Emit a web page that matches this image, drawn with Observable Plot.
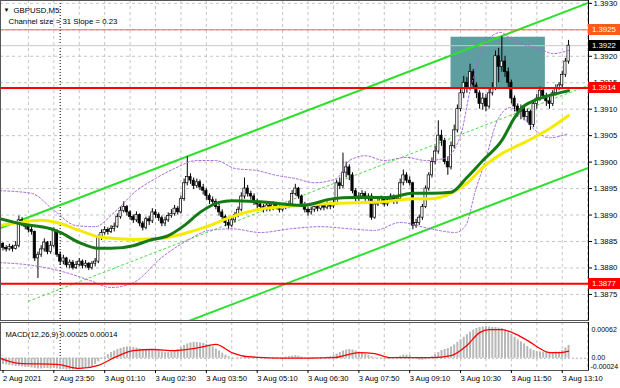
<!DOCTYPE html>
<html><head><meta charset="utf-8">
<script src="https://cdn.jsdelivr.net/npm/d3@7"></script>
<script src="https://cdn.jsdelivr.net/npm/@observablehq/plot@0.6"></script>
<style>
body{margin:0;background:#fff;}
#wrap{position:relative;width:620px;height:388px;overflow:hidden;font-family:"Liberation Sans",Arial,sans-serif;background:#fff;}
#wrap svg{position:absolute;left:0;}
.tag{position:absolute;left:588px;width:32px;height:11px;line-height:11px;font-size:7.8px;color:#fff;padding-left:4px;box-sizing:border-box;}
</style></head><body><div id="wrap"></div>
<script>
// ---------- data ----------
const timeTickBars = [0,16,32,48,64,80,96,112,128,144,160,176];
const timeLabels = ["2 Aug 2021","2 Aug 23:50","3 Aug 01:10","3 Aug 02:30","3 Aug 03:50","3 Aug 05:10","3 Aug 06:30","3 Aug 07:50","3 Aug 09:10","3 Aug 10:30","3 Aug 11:50","3 Aug 13:10"];
const gridBars = [8,16,24,32,40,48,56,64,72,80,88,96,104,112,120,128,136,144,152,160,168,176,184];
const separatorBar = [18];
const priceTicks = [1.3875,1.3880,1.3885,1.3890,1.3895,1.3900,1.3905,1.3910,1.3915,1.3920,1.3925,1.3930];

const firstOpen = 1.38845;
const close = [
1.38838,1.38835,1.38840,1.38836,1.38842,1.38890,1.38884,1.38878,1.38872,1.38868,
1.38818,1.38825,1.38835,1.38848,1.38830,1.38842,1.38870,1.38825,1.38812,1.38818,
1.38805,1.38810,1.38800,1.38806,1.38812,1.38804,1.38808,1.38800,1.38808,1.38812,
1.38858,1.38866,1.38872,1.38868,1.38874,1.38878,1.38896,1.38908,1.38915,1.38905,
1.38896,1.38890,1.38900,1.38884,1.38876,1.38892,1.38888,1.38905,1.38900,1.38894,
1.38884,1.38890,1.38898,1.38902,1.38912,1.38905,1.38930,1.38960,1.38972,1.38965,
1.38955,1.38962,1.38952,1.38946,1.38936,1.38928,1.38925,1.38915,1.38905,1.38896,
1.38885,1.38880,1.38890,1.38900,1.38910,1.38935,1.38950,1.38940,1.38935,1.38925,
1.38920,1.38915,1.38910,1.38918,1.38912,1.38920,1.38915,1.38910,1.38918,1.38915,
1.38920,1.38940,1.38950,1.38935,1.38920,1.38910,1.38905,1.38910,1.38915,1.38912,
1.38918,1.38914,1.38920,1.38916,1.38922,1.38960,1.38955,1.38980,1.38990,1.38975,
1.38945,1.38930,1.38935,1.38940,1.38930,1.38935,1.38895,1.38920,1.38925,1.38930,
1.38920,1.38928,1.38935,1.38925,1.38930,1.38960,1.38975,1.38965,1.38960,1.38880,
1.38885,1.38895,1.38915,1.38950,1.38975,1.39000,1.39020,1.39050,1.39040,1.39000,
1.38990,1.39030,1.39060,1.39100,1.39130,1.39150,1.39140,1.39170,1.39145,1.39130,
1.39110,1.39120,1.39105,1.39130,1.39140,1.39200,1.39180,1.39190,1.39170,1.39150,
1.39120,1.39105,1.39095,1.39100,1.39085,1.39095,1.39070,1.39110,1.39120,1.39135,
1.39125,1.39115,1.39110,1.39130,1.39140,1.39145,1.39165,1.39190,1.39220];
const high = [
1.38848,1.38842,1.38845,1.38843,1.38850,1.38898,1.38895,1.38888,1.38882,1.38878,
1.38870,1.38830,1.38842,1.38855,1.38850,1.38850,1.38876,1.38872,1.38830,1.38824,
1.38820,1.38815,1.38814,1.38812,1.38818,1.38815,1.38814,1.38810,1.38812,1.38818,
1.38862,1.38872,1.38878,1.38876,1.38880,1.38885,1.38902,1.38915,1.38925,1.38918,
1.38908,1.38900,1.38906,1.38902,1.38888,1.38896,1.38898,1.38912,1.38910,1.38904,
1.38898,1.38896,1.38904,1.38910,1.38918,1.38916,1.38936,1.38968,1.39010,1.38978,
1.38970,1.38968,1.38966,1.38958,1.38950,1.38940,1.38934,1.38930,1.38920,1.38910,
1.38900,1.38892,1.38896,1.38905,1.38915,1.38942,1.38970,1.38956,1.38945,1.38940,
1.38930,1.38924,1.38920,1.38922,1.38920,1.38925,1.38924,1.38918,1.38922,1.38922,
1.38926,1.38946,1.38958,1.38952,1.38938,1.38924,1.38914,1.38915,1.38920,1.38920,
1.38922,1.38922,1.38925,1.38924,1.38928,1.38966,1.38970,1.39017,1.39000,1.38995,
1.38980,1.38950,1.38942,1.38946,1.38944,1.38940,1.38940,1.38926,1.38932,1.38936,
1.38934,1.38932,1.38940,1.38938,1.38935,1.38968,1.38985,1.38980,1.38972,1.38962,
1.38892,1.38900,1.38920,1.38955,1.38980,1.39008,1.39030,1.39078,1.39060,1.39045,
1.39010,1.39038,1.39070,1.39108,1.39140,1.39162,1.39160,1.39185,1.39175,1.39150,
1.39135,1.39130,1.39128,1.39138,1.39150,1.39210,1.39215,1.39237,1.39200,1.39178,
1.39155,1.39125,1.39110,1.39108,1.39105,1.39100,1.39098,1.39115,1.39128,1.39142,
1.39140,1.39130,1.39122,1.39135,1.39146,1.39150,1.39172,1.39196,1.39230];
const low = [
1.38832,1.38830,1.38832,1.38830,1.38834,1.38838,1.38878,1.38872,1.38866,1.38862,
1.38812,1.38780,1.38820,1.38830,1.38825,1.38826,1.38838,1.38820,1.38805,1.38806,
1.38800,1.38798,1.38796,1.38797,1.38802,1.38798,1.38800,1.38795,1.38796,1.38802,
1.38808,1.38852,1.38862,1.38862,1.38865,1.38868,1.38875,1.38892,1.38904,1.38898,
1.38890,1.38884,1.38886,1.38878,1.38870,1.38872,1.38880,1.38884,1.38894,1.38888,
1.38878,1.38878,1.38886,1.38894,1.38898,1.38900,1.38902,1.38926,1.38955,1.38958,
1.38948,1.38950,1.38946,1.38938,1.38928,1.38920,1.38918,1.38910,1.38898,1.38890,
1.38878,1.38872,1.38876,1.38885,1.38895,1.38906,1.38930,1.38934,1.38928,1.38918,
1.38912,1.38908,1.38904,1.38906,1.38906,1.38908,1.38910,1.38904,1.38906,1.38910,
1.38912,1.38916,1.38936,1.38930,1.38915,1.38904,1.38898,1.38900,1.38905,1.38906,
1.38908,1.38908,1.38910,1.38910,1.38912,1.38918,1.38948,1.38950,1.38970,1.38965,
1.38940,1.38925,1.38926,1.38930,1.38926,1.38926,1.38890,1.38892,1.38916,1.38920,
1.38915,1.38916,1.38924,1.38920,1.38920,1.38926,1.38955,1.38960,1.38955,1.38872,
1.38875,1.38880,1.38890,1.38912,1.38945,1.38970,1.38995,1.39015,1.39030,1.38995,
1.38975,1.38985,1.39025,1.39055,1.39095,1.39120,1.39130,1.39135,1.39140,1.39120,
1.39100,1.39098,1.39095,1.39100,1.39125,1.39135,1.39150,1.39170,1.39160,1.39140,
1.39110,1.39095,1.39085,1.39080,1.39078,1.39075,1.39060,1.39065,1.39100,1.39115,
1.39118,1.39105,1.39100,1.39105,1.39125,1.39135,1.39140,1.39160,1.39185];

// moving averages (read at sample bars)
const maGreenBars = [-1,5,15,18,24,30,34,41,46,52,57,62,68,72,83,94,104,110,121,129,135,141,146,151,157,161,163,167,172,178];
const maGreenVals = [1.38893,1.38884,1.38874,1.38867,1.38848,1.38837,1.38837,1.38842,1.38852,1.38861,1.38880,1.38905,1.38924,1.38927,1.38924,1.38918,1.38931,1.38933,1.38933,1.38941,1.38941,1.38943,1.38971,1.39003,1.39041,1.39084,1.39101,1.39116,1.39126,1.39135];
const maYellowBars = [-1,5,12,18,24,31,41,50,57,65,72,80,93,104,120,129,135,141,146,151,157,162,167,172,178];
const maYellowVals = [1.38880,1.38886,1.38890,1.38884,1.38871,1.38858,1.38854,1.38856,1.38865,1.38880,1.38897,1.38910,1.38918,1.38922,1.38925,1.38931,1.38931,1.38941,1.38960,1.38990,1.39016,1.39031,1.39046,1.39063,1.39088];

// Bollinger bands
const bandUpperBars = [-1,9,16,23,29,35,42,48,54,61,67,73,80,86,92,98,105,109,114,120,127,133,139,144,147,150,152.5,156.6,159.7,163,167,170,173,178];
const bandUpperVals = [1.38946,1.38941,1.38909,1.38880,1.38878,1.38905,1.38946,1.38969,1.38988,1.39003,1.39003,1.38988,1.38984,1.38975,1.38969,1.38961,1.38969,1.39003,1.39012,1.39003,1.39009,1.39003,1.39007,1.39050,1.39135,1.39198,1.39230,1.39245,1.39234,1.39224,1.39217,1.39211,1.39205,1.39211];
const bandLowerBars = [-1,9,20,27.5,34,41,50,58,65,72,81,90.5,100,109,117,125,134.5,142.4,145.6,148.7,151.8,155.6,159.7,163,167,172,178];
const bandLowerVals = [1.38810,1.38805,1.38791,1.38776,1.38763,1.38772,1.38820,1.38852,1.38871,1.38874,1.38867,1.38874,1.38878,1.38874,1.38871,1.38886,1.38874,1.38867,1.38880,1.38946,1.39003,1.39079,1.39103,1.39088,1.39063,1.39046,1.39054];

// equidistant channel (size 31, slope 0.23)
const channelBars = [-1, 184.2];
const channelUpper = [1.38875, 1.39301];
const channelLower = [1.38563, 1.38989];
const channelMidBars = [8, 184.2];
const channelMid = [1.38737, 1.39145];

// objects
const boxBars = [141, 170.7];
const boxPrices = [1.3914, 1.39236];
const resistanceLevel = [1.3925];
const keyLevels = [1.3914, 1.3877];
const bidPrice = [1.3922];
const tagValues = [1.3925, 1.3922, 1.3914, 1.3877];

// MACD(12,26,9)
const macdHist = [
-0.00012,-0.00013,-0.00014,-0.00015,-0.00016,-0.00016,
-0.00017,-0.00018,-0.00018,-0.00019,-0.00020,-0.00021,-0.00021,-0.00020,-0.00020,-0.00021,
-0.00020,-0.00021,-0.00022,-0.00022,-0.00023,-0.00023,-0.00023,-0.00022,-0.00022,-0.00021,-0.00020,-0.00018,-0.00016,
-0.00012,-0.00007,-0.00002,0.00003,0.00007,0.00011,
0.00014,0.00017,0.00019,0.00021,0.00022,0.00022,0.00021,0.00020,0.00018,0.00017,0.00016,0.00015,0.00015,0.00014,
0.00013,0.00012,0.00011,0.00011,0.00012,0.00014,0.00017,
0.00021,0.00025,0.00028,0.00030,0.00031,0.00031,0.00030,0.00029,0.00027,0.00025,0.00022,
0.00018,0.00014,0.00010,0.00006,0.00003,0.00001,0.00000,
-0.00001,0.00001,0.00003,0.00004,0.00004,0.00003,0.00002,0.00001,0.00000,-0.00001,-0.00001,-0.00002,-0.00001,0.00000,0.00001,0.00002,0.00003,
0.00004,0.00005,0.00004,0.00002,0.00000,
-0.00001,-0.00002,-0.00001,0.00000,0.00001,0.00001,0.00002,0.00003,
0.00005,0.00008,0.00011,0.00014,0.00016,0.00017,0.00016,0.00014,0.00012,0.00010,
0.00008,0.00006,0.00003,0.00001,0.00000,-0.00001,-0.00002,-0.00002,-0.00001,0.00000,
0.00002,0.00004,0.00006,0.00006,0.00005,
0.00001,-0.00002,-0.00004,-0.00004,-0.00003,-0.00001,
0.00003,0.00007,0.00011,0.00015,0.00017,0.00019,0.00022,0.00026,0.00031,0.00036,0.00041,0.00046,0.00051,0.00055,0.00058,0.00060,
0.00061,0.00062,0.00061,0.00060,0.00060,0.00059,0.00058,
0.00054,0.00050,0.00046,0.00041,0.00036,0.00032,0.00028,0.00023,0.00018,
0.00015,0.00013,0.00012,0.00012,0.00011,0.00010,0.00011,0.00012,0.00012,
0.00015,0.00020,0.00025];
const signalBars = [-1,5,17,24,30,35,41,47,54,62,67,72,77,88,104,112,117,122,135,141,146,150,153,157,161,166,169,172,175,178];
const signalVals = [0.00000,-0.00010,-0.00012,-0.00020,-0.00014,0.00001,0.00015,0.00017,0.00015,0.00021,0.00027,0.00011,0.00003,0.00000,0.00001,0.00011,0.00009,0.00001,0.00001,0.00005,0.00025,0.00050,0.00056,0.00056,0.00048,0.00031,0.00019,0.00011,0.00011,0.00014];
const macdAxis = [0.00062, 0, -0.00024];
const macdAxisLabels = ["0.00062", "0.00", "-0.00024"];
const macdTitle = "MACD(12,26,9) 0.00025 0.00014";
const chartTitle = "GBPUSD,M5";
const channelNote = "Channel size = 31 Slope = 0.23";

// ---------- build ----------
const bars = close.map((c, i) => ({i, o: i ? close[i - 1] : firstOpen, h: high[i], l: low[i], c}));
const pts = (xs, ys) => xs.map((x, k) => ({x, y: ys[k]}));
const labelOf = new Map(timeTickBars.map((b, k) => [b, timeLabels[k]]));
const xDomain = [-0.787, 184.27];
const font = '"Liberation Sans", Arial, sans-serif';
const gridStyle = {stroke: "#c4c4c4", strokeDasharray: "3,3", strokeWidth: 1};

const main = Plot.plot({
  width: 620, height: 321,
  marginTop: 0, marginBottom: 1, marginLeft: 0, marginRight: 32,
  style: {fontFamily: font, fontSize: "7.8px", background: "transparent", color: "#000"},
  x: {domain: xDomain, axis: null},
  y: {domain: [1.387007, 1.393054], axis: null},
  marks: [
    Plot.ruleY(priceTicks, gridStyle),
    Plot.ruleX(gridBars, gridStyle),
    Plot.ruleX(separatorBar, {stroke: "#000", strokeDasharray: "1,2"}),
    Plot.rect([0], {x1: () => boxBars[0], x2: () => boxBars[1], y1: () => boxPrices[0], y2: () => boxPrices[1], fill: "#5f9ea0"}),
    Plot.ruleY(bidPrice, {stroke: "#c8c8c8"}),
    Plot.line(pts(channelBars, channelUpper), {x: "x", y: "y", stroke: "#2ee02e", strokeWidth: 2, clip: true}),
    Plot.line(pts(channelBars, channelLower), {x: "x", y: "y", stroke: "#2ee02e", strokeWidth: 2, clip: true}),
    Plot.line(pts(channelMidBars, channelMid), {x: "x", y: "y", stroke: "#45dd45", strokeWidth: 1, strokeDasharray: "2,3", clip: true}),
    Plot.ruleX(bars, {x: "i", y1: "l", y2: "h", stroke: "#000", strokeWidth: 1}),
    Plot.rect(bars.filter(d => d.c >= d.o), {x1: d => d.i - 0.36, x2: d => d.i + 0.36, y1: "o", y2: "c", fill: "#fff", stroke: "#000", strokeWidth: 0.7}),
    Plot.rect(bars.filter(d => d.c < d.o), {x1: d => d.i - 0.36, x2: d => d.i + 0.36, y1: "o", y2: "c", fill: "#000", stroke: "#000", strokeWidth: 0.7}),
    Plot.line(pts(bandUpperBars, bandUpperVals), {x: "x", y: "y", stroke: "#a866dd", strokeWidth: 1, strokeDasharray: "2,2", curve: "monotone-x", clip: true}),
    Plot.line(pts(bandLowerBars, bandLowerVals), {x: "x", y: "y", stroke: "#a866dd", strokeWidth: 1, strokeDasharray: "2,2", curve: "monotone-x", clip: true}),
    Plot.line(pts(maYellowBars, maYellowVals), {x: "x", y: "y", stroke: "#f4ec00", strokeWidth: 3, curve: "monotone-x", clip: true}),
    Plot.line(pts(maGreenBars, maGreenVals), {x: "x", y: "y", stroke: "#157a15", strokeWidth: 3, curve: "monotone-x", clip: true}),
    Plot.ruleY(resistanceLevel, {stroke: "#ff6633", strokeWidth: 1}),
    Plot.ruleY(keyLevels, {stroke: "#ff0000", strokeWidth: 2}),
    Plot.frame({stroke: "#555"}),
    Plot.ruleX([xDomain[1]], {stroke: "#000"}),
    Plot.axisY(priceTicks, {anchor: "right", tickFormat: d3.format(".4f"), tickSize: 3, tickPadding: 2, fontSize: 7.8}),
    Plot.text(["▼"], {frameAnchor: "top-left", text: d => d, dx: 3, dy: 7, fontSize: 6, textAnchor: "start"}),
    Plot.text([chartTitle], {frameAnchor: "top-left", text: d => d, dx: 13, dy: 7, fontSize: 7.8, textAnchor: "start"}),
    Plot.text([channelNote], {frameAnchor: "top-left", text: d => d, dx: 8, dy: 18, fontSize: 7.8, textAnchor: "start"})
  ]
});
main.style.top = "0px";

const macd = Plot.plot({
  width: 620, height: 66,
  marginTop: 0, marginBottom: 18, marginLeft: 0, marginRight: 32,
  style: {fontFamily: font, fontSize: "7.6px", background: "transparent", color: "#000"},
  x: {domain: xDomain, axis: null},
  y: {domain: [-0.00024, 0.00062], range: [48, 4], axis: null},
  marks: [
    Plot.ruleX(gridBars, gridStyle),
    Plot.ruleX(separatorBar, {stroke: "#000", strokeDasharray: "1,2"}),
    Plot.ruleY([0], {stroke: "#b0b0b0", strokeDasharray: "2,2"}),
    Plot.ruleX(macdHist.map((v, i) => ({i, v})), {x: "i", y1: 0, y2: "v", stroke: "#b7b7b7", strokeWidth: 2}),
    Plot.line(pts(signalBars, signalVals), {x: "x", y: "y", stroke: "#ff0000", strokeWidth: 1.3, curve: "monotone-x", clip: true}),
    Plot.frame({stroke: "#555"}),
    Plot.ruleX([xDomain[1]], {stroke: "#000"}),
    Plot.text([macdTitle], {frameAnchor: "top-left", text: d => d, dx: 5, dy: 9, fontSize: 7.6, textAnchor: "start"}),
    Plot.text([macdAxis[0]], {y: d => d, frameAnchor: "right", text: () => macdAxisLabels[0], dx: 3, dy: 3, textAnchor: "start", fontSize: 7}),
    Plot.text([macdAxis[1]], {y: d => d, frameAnchor: "right", text: () => macdAxisLabels[1], dx: 3, dy: 0, textAnchor: "start", fontSize: 7}),
    Plot.text([macdAxis[2]], {y: d => d, frameAnchor: "right", text: () => macdAxisLabels[2], dx: 2, dy: -4, textAnchor: "start", fontSize: 7}),
    Plot.axisX(timeTickBars, {anchor: "bottom", tickFormat: d => labelOf.get(d), textAnchor: "start", tickSize: 3, tickPadding: 2, fontSize: 7.6})
  ]
});
macd.style.top = "322px";

const wrap = document.getElementById("wrap");
wrap.appendChild(main);
wrap.appendChild(macd);

// price tags on the right axis, positioned with the plot's own y scale
const ys = main.scale("y");
const tagColors = ["#ff5a1e", "#000000", "#ff0000", "#ff0000"];
tagValues.forEach((v, k) => {
  const div = document.createElement("div");
  div.className = "tag";
  div.style.top = (ys.apply(v) - 5.5) + "px";
  div.style.background = tagColors[k];
  div.textContent = d3.format(".4f")(v);
  wrap.appendChild(div);
});
</script>
</body></html>
